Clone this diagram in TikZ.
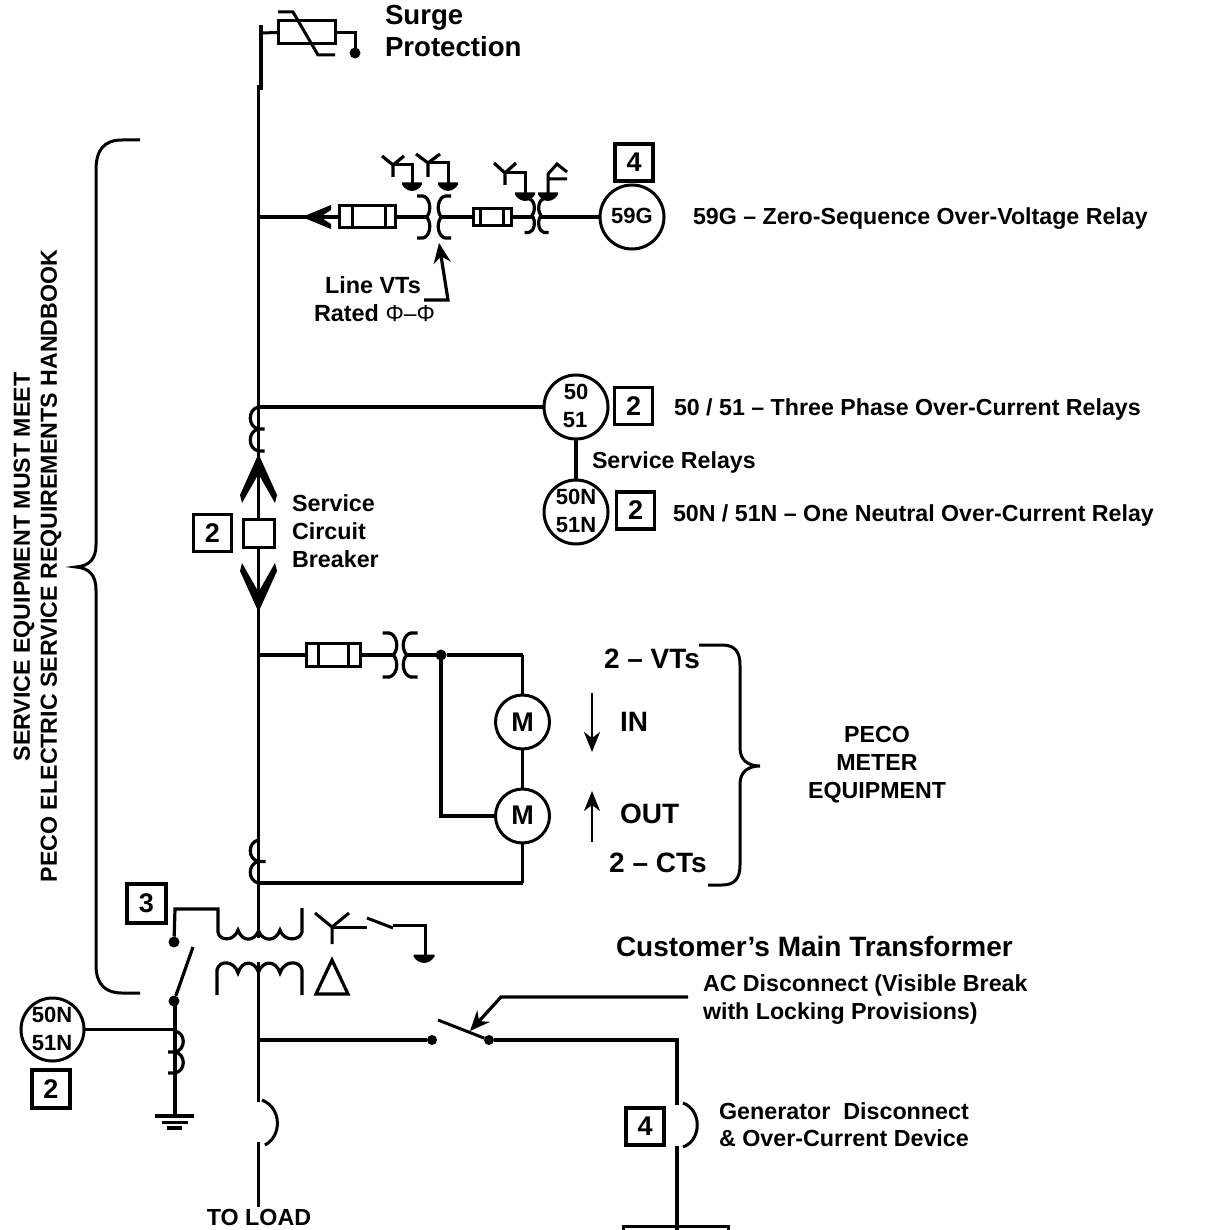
\documentclass[tikz,border=0pt]{standalone}
\usepackage{fontspec}
\setmainfont{Liberation Sans}
\usetikzlibrary{arrows.meta}
\newcommand\fsz[1]{\fontsize{#1}{#1}\selectfont\bfseries}
\newcommand\vtsym[6]{% cx y gap w h lw
  \foreach \sgn in {-1,1}{
    \draw[line width=#6,shift={(#1+\sgn*#3,#2)},xscale=\sgn*#4,yscale=#5]
      (1,-1) -- (.55,-1) .. controls (.05,-.95) and (-.2,-.35) .. (.25,0)
      .. controls (-.2,.35) and (.05,.95) .. (.55,1) -- (1,1);
  }}
\newcommand\ctsym[5]{% x ytop h dir ticklen
  \draw[line width=3.2] (#1,#2) .. controls (#1-#4*11,#2+.1*#3) and (#1-#4*11,#2+.9*#3) .. (#1,#2+#3) -- +(#4*#5,0);
  \draw[line width=3.2] (#1,#2+#3) .. controls (#1-#4*11,#2+1.1*#3) and (#1-#4*11,#2+1.9*#3) .. (#1,#2+2*#3) -- +(#4*#5,0);
}
\newcommand\gnd[3]{% x y halfwidth
  \fill (#1-#3,#2-1.5) -- (#1+#3,#2-1.5) -- (#1+#3,#2+.5) .. controls (#1+#3*.5,#2+9) and (#1-#3*.5,#2+9) .. (#1-#3,#2+.5) -- cycle;
}
\newcommand\wye[6]{% cx cy armdx armdy stemlen lw
  \draw[line width=#6] (#1-#3,#2-#4) -- (#1,#2) -- (#1+#3,#2-#4) (#1,#2) -- (#1,#2+#5);
}
\tikzset{
  wire/.style={line width=3.5,line cap=butt,line join=miter},
  thinwire/.style={line width=3},
  relay/.style={circle,draw,line width=3,fill=white,inner sep=0,outer sep=0,minimum size=#1},
  numbox/.style={rectangle,draw,line width=3.2,fill=white,inner sep=0,outer sep=0,minimum width=38,minimum height=37,font=\fsz{27}},
  fusebox/.style={rectangle,draw,line width=3,fill=white,inner sep=0,outer sep=0},
  lbl/.style={anchor=west,inner sep=0,outer sep=0,font=\fsz{#1}},
  ctr/.style={anchor=center,inner sep=0,outer sep=0,align=center,font=\fsz{#1}},
  dotn/.style={circle,fill=black,inner sep=0,outer sep=0,minimum size=#1},
  arr/.style={-{Stealth[length=20,width=17]}},
}
\begin{document}
\begin{tikzpicture}[x=1pt,y=-1pt]
\useasboundingbox (0,0) rectangle (1215,1230);
\fill[white] (0,0) rectangle (1215,1230);

% ---- bus junctions
\coordinate (top) at (260.5,25);
\coordinate (jog) at (260.5,90);
\coordinate (jog2) at (258.5,85);
\coordinate (bSurge) at (260.5,33);
\coordinate (b59) at (258.5,217);
\coordinate (b50) at (258.5,407);
\coordinate (bMet) at (258.5,655);
\coordinate (bCT) at (258.5,883);
\coordinate (txT) at (258.5,938);
\coordinate (txB) at (258.5,962);
\coordinate (bAC) at (258.5,1040);
\coordinate (bGap) at (258.5,1102);
\coordinate (bGap2) at (258.5,1142);
\coordinate (bEnd) at (258.5,1207);

\draw[wire,line width=4] (top) -- (jog);
\draw[wire,line width=3] (jog2) -- (txT);
\draw[wire] (txB) -- (bGap);
\draw[wire] (bGap2) -- (bEnd);
\draw[line width=3] (262,1100) .. controls (282,1108) and (282,1136) .. (265,1145);

% ---- surge protection
\node[fusebox,minimum width=57,minimum height=23] (surge) at (306.5,32.5) {};
\draw[thinwire] (bSurge) -- (surge.west);
\draw[thinwire] (surge.east) -- (355,32.5) -- (355,50);
\fill (355,53) circle (5.5);
\draw[line width=3] (278,12) -- (293,12) -- (318,55) -- (335,55);

% ---- 59G branch
\node[fusebox,minimum width=56,minimum height=22] (fuseA) at (367,217) {};
\draw[line width=3] (352,206) -- (352,228) (385,206) -- (385,228);
\node[fusebox,minimum width=38,minimum height=17] (fuseB) at (492,217) {};
\draw[line width=3] (480,208.5) -- (480,225.5) (503,208.5) -- (503,225.5);
\node[relay=64] (r59) at (632,217) {};
\node[ctr=22] (t59) at (632,216) {59G};
\node[numbox] (bx59) at (634,162.5) {4};
\coordinate (vtAl) at (429,217);
\coordinate (vtAr) at (439,217);
\coordinate (vtBl) at (533,217);
\coordinate (vtBr) at (541,217);
\draw[wire] (b59) -- (fuseA.west);
\draw[wire] (fuseA.east) -- (vtAl);
\draw[wire] (vtAr) -- (fuseB.west);
\draw[wire] (fuseB.east) -- (vtBl);
\draw[wire] (vtBr) -- (r59.west);
\fill (302,217) -- (331,205) -- (331,210) -- (320,217) -- (331,224) -- (331,229) -- cycle;
\vtsym{434}{217}{4}{13}{21}{3.2}
\vtsym{536.5}{215.5}{2}{10}{17}{3.2}
% instrument secondaries
\wye{393}{165}{11}{9}{12}{3.2}
\draw[thinwire] (393,165) -- (412,165) -- (412,184);
\gnd{412}{184}{10}
\wye{428}{163}{12}{9}{14}{3.2}
\draw[thinwire] (428,163) -- (448,163) -- (448,184);
\gnd{448}{184}{10}
\wye{505}{173}{11}{10}{12}{3.2}
\draw[thinwire] (505,173) -- (525,173) -- (525,194);
\gnd{525}{194}{10}
\draw[thinwire] (567,172) -- (557,164) -- (548,174) -- (548,194) (548,179) -- (567,179);
\gnd{548}{194}{10}
% line VTs label and pointer
\node[lbl=23.4] (tLine) at (325,285) {Line VTs};
\node[lbl=23.4] (tRated) at (314,313) {Rated {\mdseries\fontsize{23}{23}\selectfont Φ–Φ}};
\coordinate (ptA) at (424,300);
\coordinate (ptB) at (448,300);
\coordinate (ptC) at (439,243);
\draw[line width=3.2,arr] (ptA) -- (ptB) -- (ptC);

% ---- 50/51
\node[relay=64] (r50) at (576,407) {};
\node[ctr=22] (t50) at (576,392) {50};
\node[ctr=22] (t51) at (575,420) {51};
\node[numbox] (bx50) at (633.5,406) {2};
\draw[wire] (b50) -- (r50.west);
\node[relay=64] (r50n) at (576,512) {};
\node[ctr=22] (t50n) at (576,497) {50N};
\node[ctr=22] (t51n) at (576,525) {51N};
\node[numbox] (bx50n) at (635.5,510.5) {2};
\draw[wire] (r50.south) -- (r50n.north);
\node[lbl=23.2] (tRel1) at (674,409) {50 / 51 – Three Phase Over-Current Relays};
\node[lbl=23.2] (tRel2) at (592,462) {Service Relays};
\node[lbl=23.2] (tRel3) at (673,515) {50N / 51N – One Neutral Over-Current Relay};
\node[lbl=23.2] (t59l) at (693,219) {59G – Zero-Sequence Over-Voltage Relay};

% ---- service circuit breaker
\ctsym{258.5}{407}{22}{1}{6}
\fill (258.5,454) -- (277,495) -- (275,503) -- (258.5,474) -- (242,503) -- (240,495) -- cycle;
\fill (258.5,612) -- (277,571) -- (275,563) -- (258.5,592) -- (242,563) -- (240,571) -- cycle;
\node[fusebox,minimum width=31,minimum height=28] (scb) at (258.5,533) {};
\node[numbox] (bxscb) at (212.5,533) {2};
\node[lbl=23.3] (tS1) at (292,503) {Service};
\node[lbl=23.3] (tS2) at (292,531) {Circuit};
\node[lbl=23.3] (tS3) at (292,559) {Breaker};

% ---- PECO meter
\node[fusebox,minimum width=54,minimum height=23] (fuseC) at (333,655) {};
\draw[line width=3] (318,644) -- (318,666) (348,644) -- (348,666);
\coordinate (vtCl) at (394,655);
\coordinate (vtCr) at (406,655);
\node[dotn=11] (dM) at (441,655) {};
\coordinate (cnrM) at (522.5,655);
\coordinate (cnrL) at (440,816);
\coordinate (cnrC) at (522.5,883);
\node[relay=54] (m1) at (522.5,722) {};
\node[ctr=27] (tm1) at (522.5,722) {M};
\node[relay=54] (m2) at (522.5,816) {};
\node[ctr=27] (tm2) at (522.5,815) {M};
\draw[wire] (bMet) -- (fuseC.west);
\draw[wire] (fuseC.east) -- (vtCl);
\draw[wire] (vtCr) -- (dM);
\draw[wire] (dM) -- (cnrM);
\draw[thinwire,line width=2.5] (cnrM) -- (m1.north);
\draw[thinwire,line width=2.5] (m1.south) -- (m2.north);
\draw[wire,line width=4] (441,655) -- (441,816) -- (m2.west);
\draw[thinwire,line width=2.5] (m2.south) -- (cnrC);
\draw[wire] (cnrC) -- (bCT);
\vtsym{400}{655}{3}{14.5}{22}{3.2}
\ctsym{258.5}{840}{21.5}{1}{7}
\node[ctr=28] (tVT) at (652,659) {2 – VTs};
\node[ctr=28] (tCT) at (658,863) {2 – CTs};
\node[lbl=28] (tIN) at (620,722) {IN};
\node[lbl=28] (tOUT) at (620,814) {OUT};
\coordinate (inA) at (592,693);
\coordinate (inB) at (592,752);
\coordinate (outA) at (592,842);
\coordinate (outB) at (592,791);
\tikzset{smallarr/.style={line width=2.5,-{Stealth[length=20,width=16,inset=6]}}}
\draw[smallarr] (inA) -- (inB);
\draw[smallarr] (outA) -- (outB);
\draw[line width=3] (699,645) -- (722,645) .. controls (735,645) and (740,652) .. (740,665) -- (740,748) .. controls (740,760) and (748,766) .. (760,766) .. controls (748,766) and (740,772) .. (740,784) -- (740,865) .. controls (740,878) and (735,885) .. (722,885) -- (708,885);
\node[ctr=23.2,font=\fontsize{23.2}{28}\selectfont\bfseries] (tPeco) at (877,765) {PECO\\METER\\EQUIPMENT};

% ---- left brace and rotated text
\draw[line width=3] (140,140) -- (122,140) .. controls (104,140) and (96,150) .. (96,170) -- (96,545) .. controls (96,558) and (90,566) .. (76,567) .. controls (90,568) and (96,576) .. (96,590) -- (96,965) .. controls (96,985) and (106,993) .. (122,993) -- (140,993);
\node[ctr=23.2,rotate=90] (tRotA) at (24,567) {SERVICE EQUIPMENT MUST MEET};
\node[ctr=23.2,rotate=90] (tRotB) at (51,566) {PECO ELECTRIC SERVICE REQUIREMENTS HANDBOOK};

% ---- main transformer
\node[numbox,minimum width=39,minimum height=39] (bx3) at (146.5,903.5) {3};
\node[dotn=11] (dT1) at (174,942) {};
\node[dotn=11] (dT2) at (174,1001) {};
\draw[line width=3.2] (dT1) -- (175,909) -- (218,909) -- (218,932) .. controls (219,941) and (234,942) .. (238,930)
  .. controls (242,942) and (254,942) .. (258.5,931) .. controls (263,942) and (276,942) .. (280,930)
  .. controls (284,942) and (300,941) .. (302,932) -- (302,908);
\draw[line width=3.2] (217,995) -- (217,970) .. controls (219,960) and (234,960) .. (238,973)
  .. controls (242,960) and (254,960) .. (258.5,972) .. controls (263,960) and (276,960) .. (280,973)
  .. controls (284,960) and (300,960) .. (302,970) -- (302,995);
\draw[line width=3.2] (193,947) -- (dT2);
\coordinate (gndT) at (175,1116);
\coordinate (cJoin) at (175,1029.5);
\draw[wire] (175,1001) -- (gndT);
\ctsym{175}{1031}{21}{-1}{7}
\draw[line width=3.5] (155,1116) -- (194,1116);
\draw[line width=3.5] (162,1122.5) -- (188,1122.5);
\draw[line width=3.5] (167,1128) -- (182,1128);
\node[relay=63] (rL) at (52.5,1029.5) {};
\node[ctr=22] (tL1) at (52,1015) {50N};
\node[ctr=22] (tL2) at (52,1043) {51N};
\node[numbox,minimum width=38,minimum height=38] (bxL) at (51,1089) {2};
\draw[wire] (rL.east) -- (cJoin);
% wye/delta
\wye{332}{927}{17}{14}{17}{3}
\draw[thinwire] (332,927) -- (367,927);
\draw[line width=3] (367,918) -- (393,928);
\draw[line width=3] (393,925) -- (425,925) -- (425,956);
\gnd{424}{956}{10.5}
\draw[line width=3.2,line join=miter] (332,960) -- (348,994) -- (316,994) -- cycle;
\node[lbl=28] (tCust) at (616,946) {Customer's Main Transformer};

% ---- AC disconnect
\node[dotn=10] (dA1) at (432,1040) {};
\node[dotn=10] (dA2) at (489,1040) {};
\coordinate (acB) at (677,1040);
\coordinate (gA) at (677,1105);
\coordinate (gB) at (677,1146);
\coordinate (genBox) at (677,1230);
\draw[wire] (bAC) -- (dA1);
\draw[line width=3] (438,1020) -- (dA2);
\draw[wire] (dA2) -- (acB) -- (gA);
\draw[wire] (gB) -- (genBox);
\draw[line width=3] (683,1103) .. controls (702,1110) and (702,1140) .. (683,1147);
\draw[line width=3] (623,1230) -- (623,1226) -- (728,1226) -- (728,1230);
\coordinate (pA) at (688,997);
\coordinate (pB) at (501,997);
\coordinate (pC) at (470,1031);
\draw[line width=3.2,arr] (pA) -- (pB) -- (pC);
\node[numbox] (bxG) at (645,1126.5) {4};
\node[lbl=23.2] (tAC1) at (703,985) {AC Disconnect (Visible Break};
\node[lbl=23.2] (tAC2) at (703,1014) {with Locking Provisions)};
\node[lbl=23.3] (tG1) at (719,1111) {Generator\ \ Disconnect};
\node[lbl=23.3] (tG2) at (719,1138) {\& Over-Current Device};
\node[ctr=23.3] (tLoad) at (259,1217) {TO LOAD};
\node[lbl=27.6] (tSurge1) at (385,18) {Surge};
\node[lbl=27.6] (tSurge2) at (385,47) {Protection};
\end{tikzpicture}
\end{document}
